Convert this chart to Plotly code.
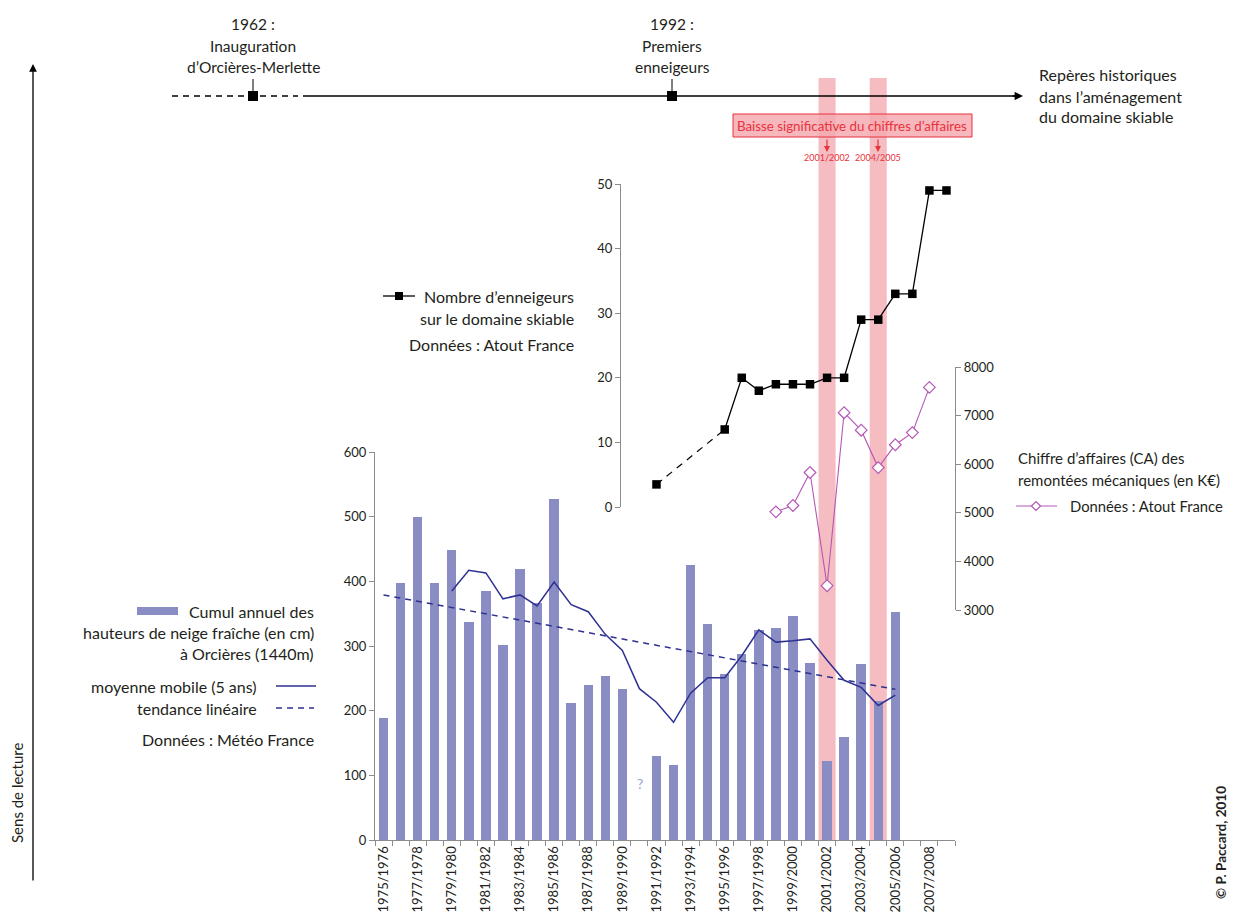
import plotly.graph_objects as go

W, H = 1237, 920

seasons = ["1975/1976", "1976/1977", "1977/1978", "1978/1979", "1979/1980", "1980/1981",
           "1981/1982", "1982/1983", "1983/1984", "1984/1985", "1985/1986", "1986/1987",
           "1987/1988", "1988/1989", "1989/1990", "1990/1991", "1991/1992", "1992/1993",
           "1993/1994", "1994/1995", "1995/1996", "1996/1997", "1997/1998", "1998/1999",
           "1999/2000", "2000/2001", "2001/2002", "2002/2003", "2003/2004", "2004/2005",
           "2005/2006", "2006/2007", "2007/2008", "2008/2009"]

snow_cm = [189, 397, 500, 397, 449, 337, 385, 301, 419, 366, 527, 212, 239, 253, 234, None,
           130, 116, 426, 334, 256, 288, 324, 328, 346, 273, 122, 159, 272, 215, 352,
           None, None, None]

moving_avg = [None, None, None, None, 385, 417, 413, 373, 379, 362, 399, 364, 353, 318, 293,
              234, 213, 182, 227, 251, 251, 285, 325, 306, 308, 311, 278, 247, 236, 208, 224,
              None, None, None]

trend_seasons = ["1975/1976", "2005/2006"]
trend_values = [379, 233]

snowmakers = [None, None, None, None, None, None, None, None, None, None, None, None, None,
              None, None, None, 3.5, None, None, None, 12, 20, 18, 19, 19, 19, 20, 20, 29, 29,
              33, 33, 49, 49]

turnover_keur = [None, None, None, None, None, None, None, None, None, None, None, None, None,
                 None, None, None, None, None, None, None, None, None, None, 5020, 5150, 5830,
                 3500, 7060, 6700, 5930, 6400, 6650, 7580, None]

drop_seasons = ["2001/2002", "2004/2005"]

idx = list(range(len(seasons)))
pos = {s: i for i, s in enumerate(seasons)}

BAR = "#8a8cc4"
NAVY = "#2e3192"
MAG = "#b558b5"
RED = "#e8323c"
PINK = "#f5bcc2"
GREY = "#8c8c8c"
FONT = "Lato"
TXT = 16

# page offset of the rendered figure (x shift, y shift and effective height)
OX, OY, EH = 8, 16, 904


def X(px):
    return (px - OX) / W


def Y(py):
    return 1 - (py - OY) / EH


fig = go.Figure()

fig.add_trace(go.Bar(x=idx, y=snow_cm, marker=dict(color=BAR, line=dict(width=0)),
                     width=0.55, xaxis="x", yaxis="y", showlegend=False))
fig.add_trace(go.Scatter(x=idx, y=moving_avg, mode="lines", line=dict(color=NAVY, width=1.5),
                         xaxis="x", yaxis="y", showlegend=False, connectgaps=False))
fig.add_trace(go.Scatter(x=[pos[s] for s in trend_seasons], y=trend_values, mode="lines",
                         line=dict(color=NAVY, width=1.5, dash="6px,5px"),
                         xaxis="x", yaxis="y", showlegend=False))

# snow-makers
known = [i for i in idx if snowmakers[i] is not None]
first, second = known[0], known[1]
fig.add_trace(go.Scatter(x=[first, second], y=[snowmakers[first], snowmakers[second]],
                         mode="lines", line=dict(color="black", width=1.2, dash="7px,6px"),
                         xaxis="x", yaxis="y2", showlegend=False))
fig.add_trace(go.Scatter(x=known[1:], y=[snowmakers[i] for i in known[1:]], mode="lines",
                         line=dict(color="black", width=1.3),
                         xaxis="x", yaxis="y2", showlegend=False))
fig.add_trace(go.Scatter(x=known, y=[snowmakers[i] for i in known], mode="markers",
                         marker=dict(symbol="square", size=8.5, color="black"),
                         xaxis="x", yaxis="y2", showlegend=False))

# turnover
fig.add_trace(go.Scatter(x=idx, y=turnover_keur, mode="lines+markers",
                         line=dict(color=MAG, width=1.1),
                         marker=dict(symbol="diamond", size=9, color="white",
                                     line=dict(color=MAG, width=1.2)),
                         xaxis="x", yaxis="y3", showlegend=False))

shapes = []
# pink bands
for s in drop_seasons:
    shapes.append(dict(type="rect", xref="x", yref="paper", x0=pos[s] - 0.5, x1=pos[s] + 0.5,
                       y0=Y(840), y1=Y(78), fillcolor=PINK, line=dict(width=0), layer="below"))

# timeline
shapes.append(dict(type="line", xref="paper", yref="paper", x0=X(172), x1=X(298), y0=Y(96), y1=Y(96),
                   line=dict(color="black", width=1.4, dash="6px,5px")))
shapes.append(dict(type="line", xref="paper", yref="paper", x0=X(303), x1=X(1015), y0=Y(96), y1=Y(96),
                   line=dict(color="black", width=1.4)))
for cx in (253, 672):
    shapes.append(dict(type="rect", xref="paper", yref="paper", x0=X(cx - 5), x1=X(cx + 5),
                       y0=Y(101), y1=Y(91), fillcolor="black", line=dict(width=0)))
    shapes.append(dict(type="line", xref="paper", yref="paper", x0=X(cx), x1=X(cx), y0=Y(79), y1=Y(91),
                       line=dict(color="black", width=1)))

# red label box
shapes.append(dict(type="rect", xref="paper", yref="paper", x0=X(733), x1=X(972), y0=Y(137), y1=Y(114),
                   fillcolor="rgba(245,170,178,0.85)", line=dict(color=RED, width=1)))

# legend symbols
shapes.append(dict(type="rect", xref="paper", yref="paper", x0=X(137), x1=X(178), y0=Y(615), y1=Y(607),
                   fillcolor=BAR, line=dict(width=0)))
shapes.append(dict(type="line", xref="paper", yref="paper", x0=X(276), x1=X(316), y0=Y(686), y1=Y(686),
                   line=dict(color=NAVY, width=1.5)))
shapes.append(dict(type="line", xref="paper", yref="paper", x0=X(276), x1=X(314), y0=Y(708), y1=Y(708),
                   line=dict(color=NAVY, width=1.5, dash="6px,5px")))
shapes.append(dict(type="line", xref="paper", yref="paper", x0=X(383), x1=X(415), y0=Y(296), y1=Y(296),
                   line=dict(color="black", width=1.3)))
shapes.append(dict(type="rect", xref="paper", yref="paper", x0=X(395), x1=X(403), y0=Y(300), y1=Y(292),
                   fillcolor="black", line=dict(width=0)))
shapes.append(dict(type="line", xref="paper", yref="paper", x0=X(1016), x1=X(1057), y0=Y(506), y1=Y(506),
                   line=dict(color=MAG, width=1.1)))
cxp, cyp = 1036, 506
shapes.append(dict(type="path", xref="paper", yref="paper",
                   path=(f"M {X(cxp - 4.5)} {Y(cyp)} L {X(cxp)} {Y(cyp - 4.5)} "
                         f"L {X(cxp + 4.5)} {Y(cyp)} L {X(cxp)} {Y(cyp + 4.5)} Z"),
                   fillcolor="white", line=dict(color=MAG, width=1.2)))

ann = []


def txt(x, y, text, size=TXT, color="#231f20", xanchor="center", angle=0):
    ann.append(dict(x=X(x), y=Y(y), xref="paper", yref="paper", text=text, showarrow=False,
                    xanchor=xanchor, yanchor="middle", textangle=angle,
                    font=dict(family=FONT, size=size, color=color)))


txt(253, 24, "1962 :", size=15.5)
txt(253, 46, "Inauguration", size=15.5)
txt(253, 67, "d’Orcières-Merlette", size=15.5)
txt(672, 24, "1992 :", size=15.5)
txt(672, 46, "Premiers", size=15.5)
txt(672, 67, "enneigeurs", size=15.5)
txt(1037, 75, "Repères historiques", xanchor="left")
txt(1037, 96, "dans l’aménagement", xanchor="left")
txt(1037, 117, "du domaine skiable", xanchor="left")

txt(852, 126, "Baisse significative du chiffres d’affaires", size=13.3, color=RED)
txt(827, 158, drop_seasons[0], size=9, color=RED)
txt(878, 158, drop_seasons[1], size=9, color=RED)

txt(576, 296, "Nombre d’enneigeurs", xanchor="right")
txt(576, 318, "sur le domaine skiable", xanchor="right")
txt(576, 344, "Données : Atout France", xanchor="right")

txt(1016, 458, "Chiffre d’affaires (CA) des", size=15, xanchor="left")
txt(1016, 480, "remontées mécaniques (en K€)", size=15, xanchor="left")
txt(1068, 506, "Données : Atout France", size=14.8, xanchor="left")

txt(316, 611, "Cumul annuel des", xanchor="right")
txt(316, 632, "hauteurs de neige fraîche (en cm)", xanchor="right")
txt(316, 653, "à Orcières (1440m)", xanchor="right")
txt(259, 686, "moyenne mobile (5 ans)", xanchor="right")
txt(259, 708, "tendance linéaire", xanchor="right")
txt(316, 739, "Données : Météo France", xanchor="right")

txt(640, 783, "?", size=14, color="#9c9ed3")
txt(17, 793, "Sens de lecture", size=15, angle=-90)
txt(1221, 843, "<b>© P. Paccard, 2010</b>", size=13.5, angle=-90)

# arrows
ann.append(dict(x=X(1023), y=Y(96), xref="paper", yref="paper", ax=-12, ay=0, text="",
                showarrow=True, arrowhead=2, arrowsize=1.2, arrowwidth=1.4, arrowcolor="black"))
ann.append(dict(x=X(33), y=Y(64), xref="paper", yref="paper", ax=0, ay=818, text="",
                showarrow=True, arrowhead=2, arrowsize=1.2, arrowwidth=1.3, arrowcolor="black"))
for cx in (827, 878):
    ann.append(dict(x=X(cx), y=Y(152), xref="paper", yref="paper", ax=0, ay=-14, text="",
                    showarrow=True, arrowhead=2, arrowsize=1, arrowwidth=1.2, arrowcolor=RED))

tickfont = dict(family=FONT, size=13, color="#231f20")

fig.update_layout(
    width=W, height=H, autosize=False,
    margin=dict(l=0, r=0, t=0, b=0),
    paper_bgcolor="white", plot_bgcolor="rgba(0,0,0,0)",
    showlegend=False, bargap=0,
    shapes=shapes, annotations=ann,
    xaxis=dict(domain=[X(375), X(955)], range=[-0.5, len(seasons) - 0.5], anchor="y",
               tickmode="array", tickvals=idx[::2], ticktext=seasons[::2], tickangle=-90,
               tickfont=tickfont, ticks="", showline=True, linecolor=GREY, linewidth=1.2,
               showgrid=False, zeroline=False,
               minor=dict(tickmode="array", tickvals=[i - 0.5 for i in idx] + [len(idx) - 0.5],
                          ticks="outside", ticklen=5, tickcolor=GREY, tickwidth=1)),
    yaxis=dict(domain=[Y(840), Y(452)], range=[0, 600], dtick=100, anchor="x",
               ticks="outside", ticklen=5, tickcolor=GREY, showline=True, linecolor=GREY,
               linewidth=1.2, showgrid=False, zeroline=False, tickfont=tickfont),
    yaxis2=dict(domain=[Y(507), Y(184)], range=[0, 50], dtick=10, anchor="free",
                position=X(620), ticks="outside", ticklen=5, tickcolor=GREY, showline=True,
                linecolor=GREY, linewidth=1.2, showgrid=False, zeroline=False, tickfont=tickfont),
    yaxis3=dict(domain=[Y(610), Y(367)], range=[3000, 8000], dtick=1000, anchor="free",
                position=X(955), side="right", ticks="outside", ticklen=5, tickcolor=GREY,
                showline=True, linecolor=GREY, linewidth=1.2, showgrid=False, zeroline=False,
                tickfont=tickfont),
)

fig.write_html("out.html")
